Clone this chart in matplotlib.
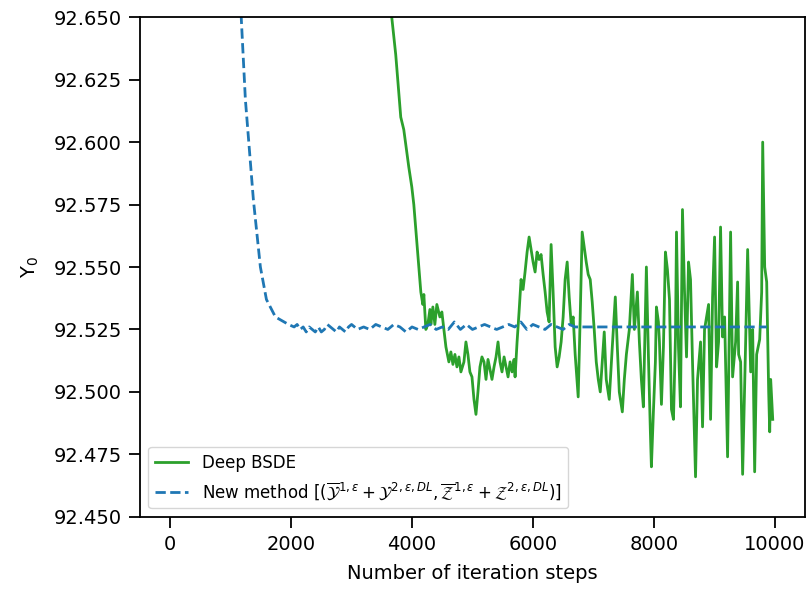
import numpy as np
import matplotlib
matplotlib.use('Agg')
import matplotlib.pyplot as plt
from matplotlib.ticker import FormatStrFormatter

# Deep BSDE estimate of Y0
deep_iter = [3600, 3665, 3731, 3814, 3864, 3947, 3997, 4030, 4096, 4146, 4179,
             4196, 4229, 4262, 4296, 4312, 4345, 4378, 4411, 4461, 4494, 4561,
             4610, 4643, 4677, 4710, 4743, 4776, 4809, 4859, 4892, 4925, 4958,
             4992, 5025, 5058, 5091, 5124, 5157, 5191, 5224, 5257, 5290, 5323,
             5357, 5390, 5423, 5456, 5489, 5523, 5556, 5589, 5622, 5655, 5688,
             5705, 5738, 5771, 5804, 5837, 5870, 5904, 5937, 5970, 6003, 6036,
             6069, 6102, 6135, 6169, 6202, 6235, 6268, 6301, 6334, 6368, 6401,
             6434, 6467, 6500, 6533, 6567, 6600, 6633, 6666, 6699, 6749, 6782,
             6815, 6849, 6882, 6915, 6948, 6981, 7014, 7048, 7081, 7114, 7147,
             7180, 7213, 7263, 7313, 7363, 7396, 7429, 7479, 7512, 7546, 7595,
             7645, 7678, 7728, 7761, 7794, 7827, 7877, 7910, 7943, 7960, 7993,
             8026, 8043, 8076, 8093, 8126, 8159, 8192, 8225, 8259, 8292, 8325,
             8358, 8375, 8408, 8441, 8474, 8508, 8541, 8574, 8607, 8640, 8690,
             8723, 8773, 8806, 8839, 8872, 8906, 8939, 8972, 9005, 9038, 9071,
             9104, 9137, 9171, 9220, 9270, 9303, 9353, 9386, 9403, 9436, 9469,
             9519, 9552, 9602, 9635, 9668, 9701, 9751, 9784, 9801, 9834, 9867,
             9900, 9917, 9933, 9967]
deep_y0 = [92.672, 92.650, 92.635, 92.610, 92.605, 92.590, 92.582, 92.575,
           92.555, 92.540, 92.535, 92.539, 92.525, 92.527, 92.533, 92.527,
           92.534, 92.527, 92.535, 92.530, 92.532, 92.518, 92.512, 92.516,
           92.511, 92.515, 92.510, 92.514, 92.508, 92.512, 92.520, 92.515,
           92.508, 92.506, 92.497, 92.491, 92.500, 92.510, 92.514, 92.512,
           92.505, 92.513, 92.509, 92.505, 92.510, 92.514, 92.520, 92.512,
           92.508, 92.514, 92.510, 92.506, 92.512, 92.508, 92.513, 92.506,
           92.520, 92.532, 92.545, 92.541, 92.548, 92.556, 92.562, 92.557,
           92.552, 92.548, 92.556, 92.553, 92.555, 92.547, 92.540, 92.532,
           92.528, 92.559, 92.540, 92.518, 92.510, 92.514, 92.520, 92.530,
           92.545, 92.552, 92.538, 92.527, 92.530, 92.515, 92.498, 92.530,
           92.564, 92.558, 92.552, 92.547, 92.545, 92.536, 92.525, 92.512,
           92.505, 92.500, 92.512, 92.524, 92.505, 92.497, 92.518, 92.538,
           92.518, 92.500, 92.492, 92.505, 92.515, 92.525, 92.547, 92.525,
           92.540, 92.520, 92.505, 92.494, 92.550, 92.515, 92.484, 92.470,
           92.492, 92.512, 92.534, 92.528, 92.520, 92.495, 92.518, 92.556,
           92.549, 92.537, 92.493, 92.489, 92.522, 92.564, 92.518, 92.494,
           92.573, 92.540, 92.514, 92.552, 92.545, 92.512, 92.466, 92.505,
           92.520, 92.486, 92.525, 92.530, 92.535, 92.489, 92.538, 92.562,
           92.510, 92.520, 92.566, 92.522, 92.530, 92.474, 92.564, 92.506,
           92.520, 92.544, 92.515, 92.512, 92.467, 92.520, 92.557, 92.508,
           92.525, 92.468, 92.515, 92.521, 92.540, 92.600, 92.550, 92.544,
           92.500, 92.484, 92.505, 92.489]

# New method estimate of Y0
new_iter = [1150, 1177, 1244, 1376, 1492, 1592, 1741, 1957, 2050, 2100, 2150,
            2200, 2250, 2300, 2350, 2400, 2450, 2500, 2550, 2600, 2650, 2700,
            2750, 2800, 2850, 2900, 2950, 3000, 3100, 3200, 3300, 3400, 3500,
            3600, 3700, 3800, 3900, 4000, 4100, 4200, 4300, 4400, 4500, 4600,
            4700, 4800, 4900, 5000, 5100, 5200, 5300, 5400, 5500, 5600, 5700,
            5800, 5900, 6000, 6100, 6200, 6300, 6400, 6500, 6600, 6700, 6800,
            7000, 7300, 7600, 8000, 8500, 9000, 9500, 9870]
new_y0 = [92.668, 92.649, 92.617, 92.577, 92.550, 92.537, 92.530, 92.527,
          92.526, 92.527, 92.525, 92.526, 92.524, 92.526, 92.525, 92.524,
          92.526, 92.524, 92.525, 92.527, 92.526, 92.525, 92.524, 92.526,
          92.525, 92.524, 92.526, 92.527, 92.525, 92.526, 92.525, 92.527,
          92.526, 92.525, 92.527, 92.526, 92.524, 92.526, 92.525, 92.526,
          92.527, 92.525, 92.526, 92.525, 92.528, 92.525, 92.527, 92.525,
          92.526, 92.527, 92.526, 92.525, 92.526, 92.527, 92.526, 92.528,
          92.525, 92.527, 92.526, 92.525, 92.527, 92.526, 92.525, 92.527,
          92.526, 92.526, 92.526, 92.526, 92.526, 92.526, 92.526, 92.526,
          92.526, 92.526]

yticks = [92.450, 92.475, 92.500, 92.525, 92.550, 92.575, 92.600, 92.625, 92.650]
xticks = [0, 2000, 4000, 6000, 8000, 10000]

new_label = (r'New method [$(\overline{\mathcal{Y}}^{1,\varepsilon}+\mathcal{Y}^{2,\varepsilon,DL},'
             r'\overline{\mathcal{Z}}^{1,\varepsilon}+\mathcal{Z}^{2,\varepsilon,DL})$]')

fig = plt.figure(figsize=(8.09, 5.94), dpi=100)
ax = fig.add_axes([0.173, 0.13, 0.822, 0.841])

ax.plot(deep_iter, deep_y0, color='tab:green', lw=2, label='Deep BSDE')
ax.plot(new_iter, new_y0, color='tab:blue', lw=2, linestyle='--', label=new_label)

ax.set_xlim(-500, 10500)
ax.set_ylim(92.45, 92.65)
ax.set_xticks(xticks)
ax.set_yticks(yticks)
ax.yaxis.set_major_formatter(FormatStrFormatter('%.3f'))
ax.tick_params(labelsize=14, length=8, width=1.3, pad=5)
for s in ax.spines.values():
    s.set_linewidth(1.3)

ax.set_xlabel('Number of iteration steps', fontsize=14, labelpad=7)
ax.set_ylabel(r'Y$_0$', fontsize=14, labelpad=9)
ax.legend(loc='lower left', fontsize=12)

fig.savefig('out.png', dpi=100)
